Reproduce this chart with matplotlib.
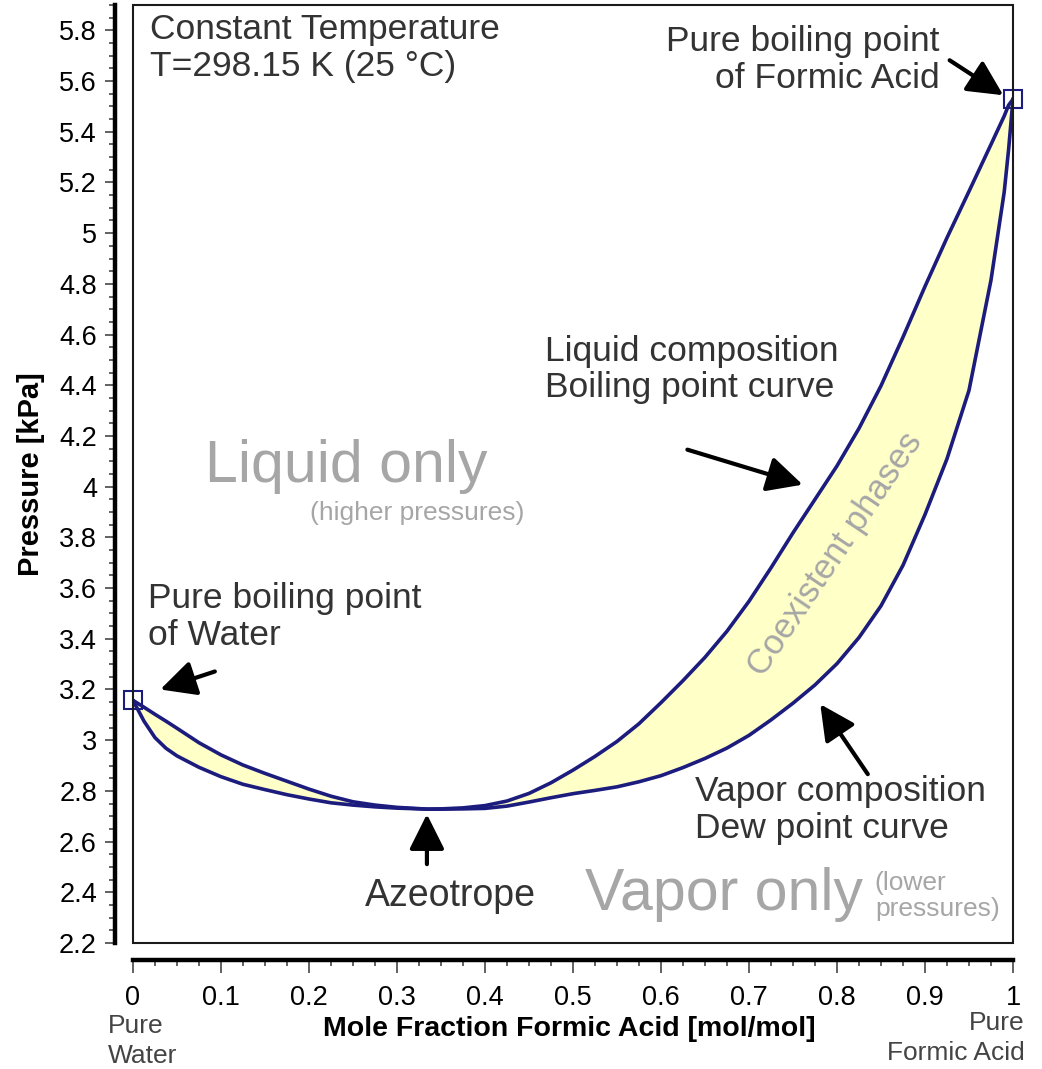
import matplotlib.pyplot as plt
from matplotlib.patches import Rectangle
from matplotlib.ticker import MultipleLocator

plt.rcParams['font.family'] = ['Liberation Sans', 'DejaVu Sans']

# Pxy data for water / formic acid at 25 °C
comp = [0.0, 0.0125, 0.025, 0.0375, 0.05, 0.075, 0.10, 0.125, 0.15, 0.175, 0.20,
        0.225, 0.25, 0.275, 0.30, 0.335, 0.35, 0.375, 0.40, 0.425, 0.45,
        0.475, 0.50, 0.525, 0.55, 0.575, 0.60, 0.625, 0.65, 0.675, 0.70,
        0.725, 0.75, 0.775, 0.80, 0.825, 0.85, 0.875, 0.90, 0.925, 0.95,
        0.975, 0.99, 0.995, 1.0]
p_liquid = [3.157, 3.130, 3.102, 3.075, 3.047, 2.990, 2.942, 2.902, 2.869, 2.838, 2.807,
            2.779, 2.757, 2.744, 2.735, 2.728, 2.729, 2.733, 2.742, 2.760, 2.790,
            2.832, 2.882, 2.936, 2.995, 3.065, 3.148, 3.235, 3.327, 3.430, 3.548,
            3.680, 3.818, 3.950, 4.082, 4.230, 4.398, 4.590, 4.790, 4.982, 5.165,
            5.350, 5.462, 5.505, 5.528]
p_vapor = [3.157, 3.075, 3.010, 2.968, 2.938, 2.893, 2.856, 2.826, 2.805, 2.785, 2.768,
           2.753, 2.744, 2.737, 2.732, 2.728, 2.728, 2.729, 2.731, 2.740, 2.756,
           2.773, 2.789, 2.802, 2.816, 2.836, 2.860, 2.892, 2.928, 2.969, 3.019,
           3.080, 3.146, 3.218, 3.302, 3.405, 3.530, 3.690, 3.890, 4.110, 4.380,
           4.815, 5.162, 5.330, 5.528]
pure_x = [0.0, 1.0]
pure_p = [3.157, 5.528]

navy = '#1c1c7e'
dark = '#333333'
light = '#a6a6a6'

fig = plt.figure(figsize=(10.42, 10.69), dpi=100)
ax = fig.add_axes([133 / 1042, 126 / 1069, 880 / 1042, 938 / 1069])

ax.fill_between(comp, p_vapor, p_liquid, color='#ffffc8', lw=0)
ax.plot(comp, p_liquid, color=navy, lw=2.6)
ax.plot(comp, p_vapor, color=navy, lw=2.6)
ax.plot(pure_x, pure_p, ls='none', marker='s', ms=13, mfc='none',
        mec=navy, mew=1.5, clip_on=False, zorder=5)

ax.set_xlim(0, 1)
ax.set_ylim(2.2, 5.9)

# thin plot frame plus thick offset axis lines
ax.add_patch(Rectangle((0, 0), 1, 1, transform=ax.transAxes, fill=False,
                       ec='#1a1a1a', lw=1.5, clip_on=False, zorder=6))
for side in ['top', 'right']:
    ax.spines[side].set_visible(False)
ax.spines['left'].set_position(('outward', 13))
ax.spines['bottom'].set_position(('outward', 12))
ax.spines['left'].set_linewidth(3.2)
ax.spines['bottom'].set_linewidth(3.2)

ax.xaxis.set_minor_locator(MultipleLocator(0.025))
ax.yaxis.set_minor_locator(MultipleLocator(0.05))
xt = [round(0.1 * i, 1) for i in range(11)]
ax.set_xticks(xt)
ax.set_xticklabels([f'{v:g}' for v in xt])
yt = [round(2.2 + 0.2 * i, 1) for i in range(19)]
ax.set_yticks(yt)
ax.set_yticklabels([f'{v:g}' for v in yt])
ax.tick_params(which='major', length=7, width=1.3, color='#555555', labelsize=19.5, pad=6)
ax.tick_params(which='minor', length=4, width=1.3, color='#555555')
ax.tick_params(axis='x', which='major', length=9, pad=9)

ax.set_xlabel('Mole Fraction Formic Acid [mol/mol]', fontsize=20.5, fontweight='bold')
ax.set_ylabel('Pressure [kPa]', fontsize=21, fontweight='bold')
ax.xaxis.set_label_coords(0.496, -0.078)
ax.yaxis.set_label_coords(-0.100, 0.5)

ax.text(-0.029, -0.076, 'Pure\nWater', transform=ax.transAxes, ha='left', va='top',
        fontsize=19, color='#444444', linespacing=1.3)
ax.text(1.013, -0.073, 'Pure\nFormic Acid', transform=ax.transAxes, ha='right', va='top',
        fontsize=19, color='#444444', linespacing=1.3, multialignment='right')

# annotations
ax.text(0.019, 5.868, 'Constant Temperature\nT=298.15 K (25 °C)', ha='left', va='top',
        fontsize=25.5, color=dark, linespacing=1.15)
ax.text(0.917, 5.82, 'Pure boiling point\nof Formic Acid', ha='right', va='top',
        fontsize=25.5, color=dark, linespacing=1.15, multialignment='right')
ax.text(0.017, 3.625, 'Pure boiling point\nof Water', ha='left', va='top',
        fontsize=25.5, color=dark, linespacing=1.15)
ax.text(0.468, 4.60, 'Liquid composition\nBoiling point curve', ha='left', va='top',
        fontsize=25.5, color=dark, linespacing=1.15)
ax.text(0.639, 2.862, 'Vapor composition\nDew point curve', ha='left', va='top',
        fontsize=25.5, color=dark, linespacing=1.15)
ax.text(0.361, 2.385, 'Azeotrope', ha='center', va='center', fontsize=27, color=dark)

ax.text(0.082, 4.079, 'Liquid only', ha='left', va='center', fontsize=42.5, color=light)
ax.text(0.201, 3.897, '(higher pressures)', ha='left', va='center', fontsize=19, color=light)
ax.text(0.514, 2.393, 'Vapor only', ha='left', va='center', fontsize=42.5, color=light)
ax.text(0.843, 2.385, '(lower\npressures)', ha='left', va='center', fontsize=19,
        color=light, linespacing=1.1)
ax.text(0.798, 3.732, 'Coexistent phases', ha='center', va='center', rotation=56,
        rotation_mode='anchor', fontsize=25, color=light)

arrow = dict(arrowstyle='-|>,head_length=0.9,head_width=0.45', color='black',
             lw=3, shrinkA=0, shrinkB=0, mutation_scale=24)
arrows = [((0.928, 5.682), (0.989, 5.544)),
          ((0.093, 3.271), (0.031, 3.200)),
          ((0.630, 4.146), (0.761, 4.008)),
          ((0.334, 2.511), (0.334, 2.708)),
          ((0.835, 2.866), (0.781, 3.142))]
for tail, head in arrows:
    ax.annotate('', xy=head, xytext=tail, arrowprops=arrow)

fig.savefig('out.png', dpi=100)
